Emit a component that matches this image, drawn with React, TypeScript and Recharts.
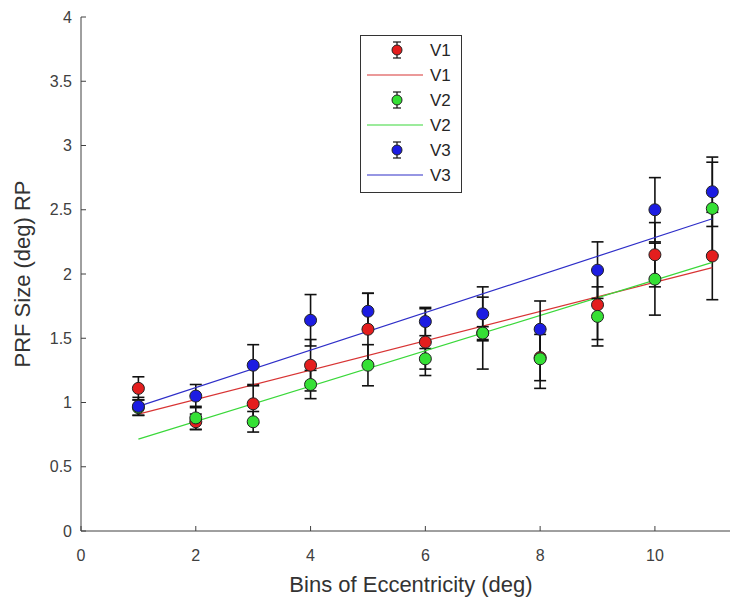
import { ComposedChart, Scatter, Line, XAxis, YAxis, ErrorBar, Legend } from 'recharts';

// eccentricity bins (deg)
const bins = [1, 2, 3, 4, 5, 6, 7, 8, 9, 10, 11];

// mean pRF size per bin and its error
const v1Mean = [1.11, 0.85, 0.99, 1.29, 1.57, 1.47, 1.54, 1.35, 1.76, 2.15, 2.14];
const v1Err = [0.09, 0.06, 0.15, 0.2, 0.28, 0.26, 0.28, 0.18, 0.27, 0.25, 0.34];
const v2Mean = [0.96, 0.88, 0.85, 1.14, 1.29, 1.34, 1.54, 1.34, 1.67, 1.96, 2.51];
const v2Err = [0.06, 0.09, 0.08, 0.11, 0.16, 0.08, 0.05, 0.23, 0.23, 0.28, 0.36];
const v3Mean = [0.97, 1.05, 1.29, 1.64, 1.71, 1.63, 1.69, 1.57, 2.03, 2.5, 2.64];
const v3Err = [0.07, 0.09, 0.16, 0.2, 0.14, 0.11, 0.21, 0.22, 0.22, 0.25, 0.27];

// linear fits, read at the first and last bin
const fitX = [1, 11];
const v1Fit = [0.91, 2.05];
const v2Fit = [0.715, 2.09];
const v3Fit = [0.97, 2.43];

const xTicks = [0, 2, 4, 6, 8, 10];
const yTicks = [0, 0.5, 1, 1.5, 2, 2.5, 3, 3.5, 4];

const toPoints = (mean: number[], err: number[]) =>
  bins.map((x, i) => ({ x, y: mean[i], err: err[i] }));
const toLine = (vals: number[]) => fitX.map((x, i) => ({ x, y: vals[i] }));

const series = [
  { name: 'V1', color: '#e41e1e', lineColor: '#d83434', points: toPoints(v1Mean, v1Err), fit: toLine(v1Fit) },
  { name: 'V2', color: '#35e035', lineColor: '#3ad83a', points: toPoints(v2Mean, v2Err), fit: toLine(v2Fit) },
  { name: 'V3', color: '#1c1ce2', lineColor: '#2e2ec8', points: toPoints(v3Mean, v3Err), fit: toLine(v3Fit) },
];

const font = '"Liberation Sans", Arial, sans-serif';
const axisColor = '#404040';

const renderLegend = () => (
  <svg width={102} height={158} style={{ display: 'block' }}>
    <rect x={0.5} y={0.5} width={101} height={157} fill="#fff" stroke="#333" />
    {series.map((s, i) => {
      const yM = 15 + i * 50;
      const yL = 40 + i * 50;
      return (
        <g key={s.name} fontFamily={font} fontSize={17} fill="#262626">
          <line x1={37} x2={37} y1={yM - 8} y2={yM + 8} stroke="#111" strokeWidth={1.2} />
          <line x1={33} x2={41} y1={yM - 8} y2={yM - 8} stroke="#111" strokeWidth={1.2} />
          <line x1={33} x2={41} y1={yM + 8} y2={yM + 8} stroke="#111" strokeWidth={1.2} />
          <circle cx={37} cy={yM} r={5} fill={s.color} stroke="#222" />
          <text x={70} y={yM} dominantBaseline="central">{s.name}</text>
          <line x1={7} x2={63} y1={yL} y2={yL} stroke={s.lineColor} strokeWidth={1.2} />
          <text x={70} y={yL} dominantBaseline="central">{s.name}</text>
        </g>
      );
    })}
  </svg>
);

export default function App() {
  return (
    <div style={{ position: 'fixed', left: 0, top: 0, width: 730, height: 601, overflow: 'hidden', background: '#fff' }}>
      <ComposedChart width={741} height={601} margin={{ top: 17, right: 0, bottom: 0, left: 0 }} style={{ fontFamily: font }}>
        <XAxis
          type="number"
          dataKey="x"
          domain={[0, 11.5]}
          ticks={xTicks}
          height={70}
          tickSize={-5}
          tickMargin={24}
          tick={{ fill: axisColor, fontSize: 16 }}
          axisLine={{ stroke: axisColor }}
          tickLine={{ stroke: axisColor }}
          label={{ value: 'Bins of Eccentricity (deg)', position: 'insideBottom', offset: 9, fill: '#333', fontSize: 22 }}
        />
        <YAxis
          type="number"
          dataKey="y"
          domain={[0, 4]}
          ticks={yTicks}
          width={81}
          tickSize={-5}
          tickMargin={14}
          tick={{ fill: axisColor, fontSize: 16 }}
          axisLine={{ stroke: axisColor }}
          tickLine={{ stroke: axisColor }}
          label={{ value: 'PRF Size (deg) RP', angle: -90, position: 'insideLeft', offset: 22, fill: '#333', fontSize: 22, textAnchor: 'middle' }}
        />
        <Legend
          layout="vertical"
          align="center"
          verticalAlign="middle"
          wrapperStyle={{ position: 'absolute', left: 360, top: 35, width: 102, height: 158 }}
          content={renderLegend}
        />
        {series.flatMap((s) => [
          <Scatter
            key={s.name + '-pts'}
            name={s.name}
            data={s.points}
            isAnimationActive={false}
            shape={(p: any) => <circle cx={p.cx} cy={p.cy} r={6} fill={s.color} stroke="#222" strokeWidth={1} />}
          >
            <ErrorBar dataKey="err" direction="y" width={6} stroke="#111" strokeWidth={1.6} isAnimationActive={false} />
          </Scatter>,
          <Line
            key={s.name + '-fit'}
            name={s.name}
            data={s.fit}
            dataKey="y"
            type="linear"
            stroke={s.lineColor}
            strokeWidth={1.2}
            dot={false}
            activeDot={false}
            isAnimationActive={false}
          />,
        ])}
      </ComposedChart>
    </div>
  );
}
